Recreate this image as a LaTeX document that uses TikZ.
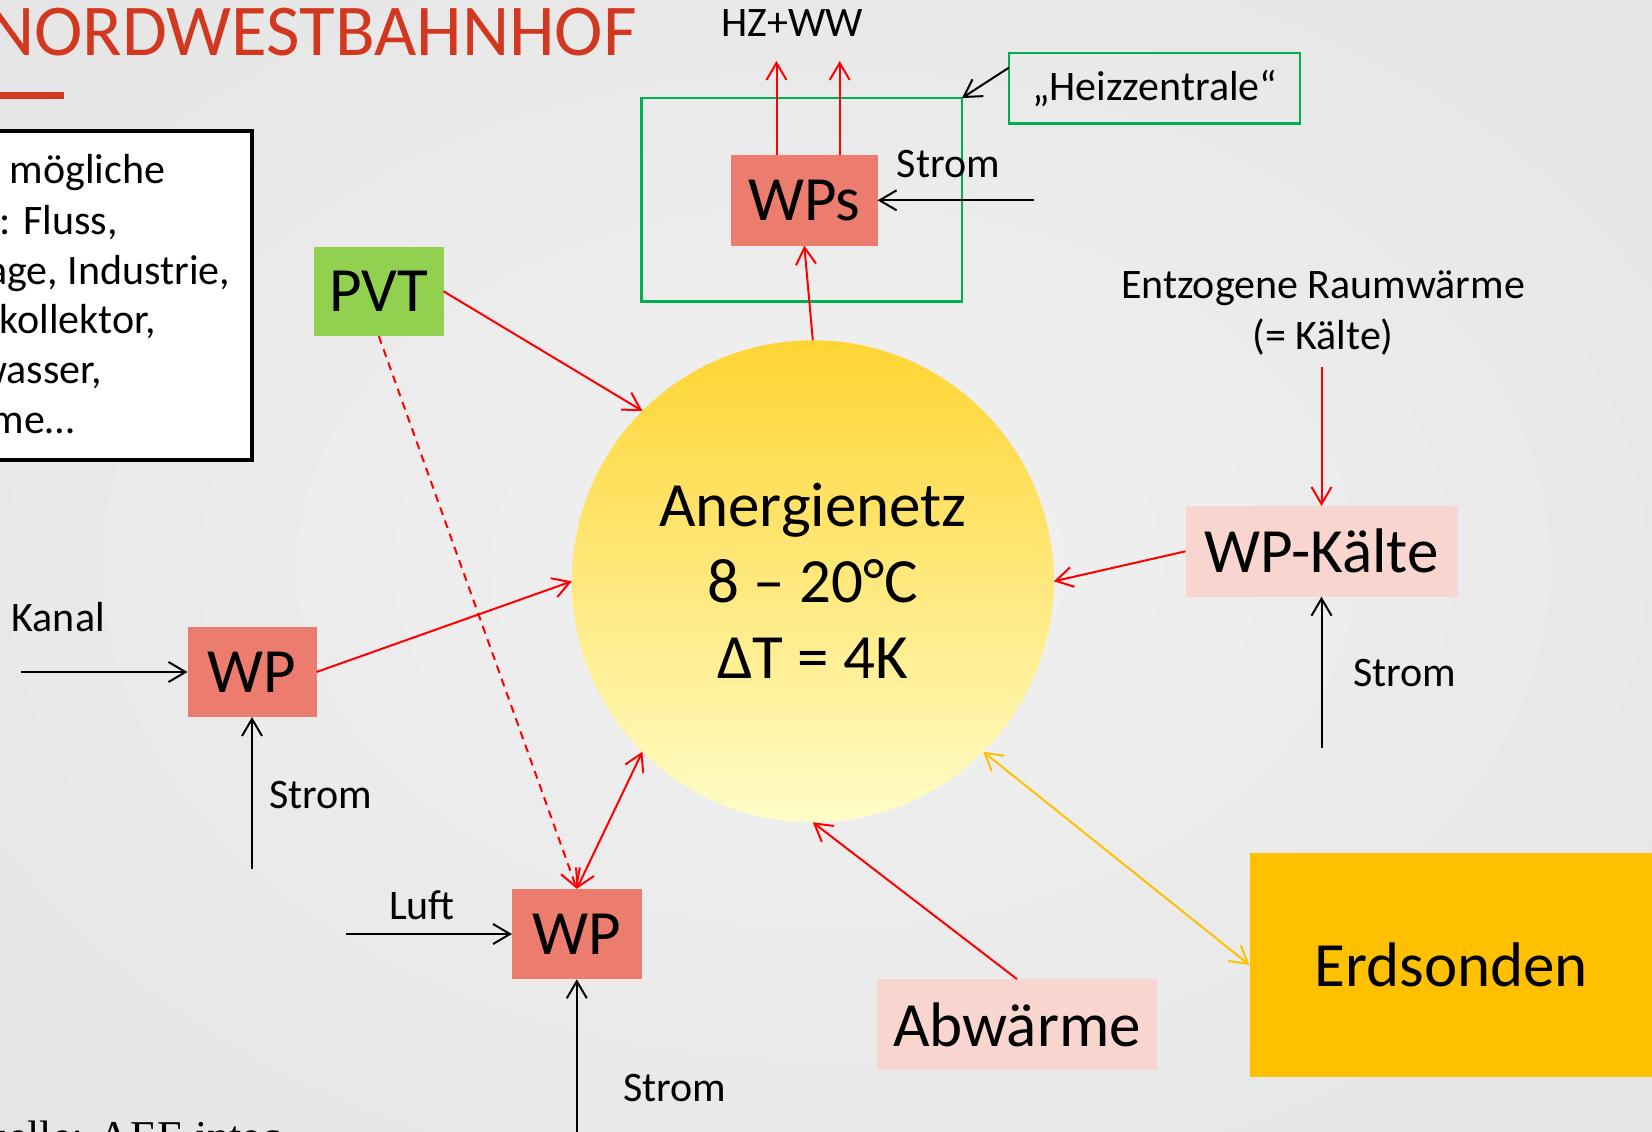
\documentclass[tikz,border=0pt]{standalone}
\usepackage{fontspec}
\setmainfont{Carlito}
\newfontfamily\quellfont{Liberation Serif}
\usetikzlibrary{arrows.meta}

\newlength{\du}
\setlength{\du}{0.5pt}
\newcommand{\gross}{\fontsize{31.5}{38}\selectfont}
\newcommand{\klein}{\fontsize{21}{25.5}\selectfont}
\newcommand{\titel}{\fontsize{36.5}{44}\selectfont}
\definecolor{bginnen}{rgb}{0.945000, 0.945000, 0.945000}
\definecolor{bgaussen}{rgb}{0.850000, 0.850000, 0.860000}
\pgfdeclareradialshading{hgrund}{\pgfpoint{0bp}{0bp}}{color(0bp)=(bginnen); color(71bp)=(bgaussen); color(72bp)=(bgaussen)}

\begin{document}
\begin{tikzpicture}[
  kasten/.style={inner sep=0pt, outer sep=0pt, font=\gross},
  beschr/.style={inner sep=0pt, outer sep=0pt, font=\klein},
  pfeil/.style={line width=1pt, -{Straight Barb[length=8.5pt,width=10pt]}},
  rotpfeil/.style={pfeil, draw=red},
  doppel/.style={line width=1pt, {Straight Barb[length=8.5pt,width=10pt]}-{Straight Barb[length=8.5pt,width=10pt]}},
  rahmen/.style={draw=zgruen, line width=1.2pt}
]
\pgftransformxscale{1.000000}
\pgftransformyscale{-1.000000}
\definecolor{titelrot}{rgb}{0.820000, 0.220000, 0.120000}
\definecolor{wpsalmon}{rgb}{0.925000, 0.486000, 0.431000}
\definecolor{pvtgruen}{rgb}{0.573000, 0.816000, 0.314000}
\definecolor{kpink}{rgb}{0.976000, 0.835000, 0.816000}
\definecolor{erdgelb}{rgb}{1.000000, 0.753000, 0.000000}
\definecolor{zgruen}{rgb}{0.000000, 0.690000, 0.314000}
\definecolor{netzoben}{rgb}{1.000000, 0.835000, 0.200000}
\definecolor{netzunten}{rgb}{1.000000, 0.990000, 0.780000}

\useasboundingbox (0\du,0\du) rectangle (1652\du,1131\du);
\shade[shading=hgrund] (0\du,0\du) rectangle (1652\du,1131\du);
\clip (0\du,0\du) rectangle (1652\du,1131\du);

% Titel
\node[anchor=base east, inner sep=0pt, font=\titel, text=titelrot] (titel) at (637\du,55\du) {NORDWESTBAHNHOF};
\fill[titelrot] (-5\du,91.5\du) rectangle (63.5\du,98.5\du);

% Textkasten links
\draw[line width=2pt, fill=white] (-20\du,131\du) rectangle (251.7\du,460\du);
\node[beschr, anchor=base east] (zeile1) at (165\du,183\du) {Weitere mögliche};
\node[beschr, anchor=base east] (zeile2) at (118\du,234\du) {Quellen: Fluss,};
\node[beschr, anchor=base east] (zeile3) at (230\du,284\du) {Kläranlage, Industrie,};
\node[beschr, anchor=base east] (zeile4) at (156\du,333\du) {Solarkollektor,};
\node[beschr, anchor=base east] (zeile5) at (102\du,383\du) {Grundwasser,};
\node[beschr, anchor=base east] (zeile6) at (74\du,433\du) {Abwärme…};

% Anergienetz
\node[circle, inner sep=0pt, outer sep=0pt, minimum size=482\du, top color=netzoben, bottom color=netzunten, font=\gross, align=center] (netz) at (812.8\du,581.3\du) {Anergienetz\\8 – 20°C\\ΔT = 4K};

% Heizzentrale
\node[rahmen, inner sep=0pt, outer sep=0pt, minimum width=320.4\du, minimum height=203.3\du] (zentrale) at (801.8\du,199.7\du) {};
\node[kasten, fill=wpsalmon, minimum width=146.6\du, minimum height=90.5\du] (wps) at (804.3\du,200.3\du) {WPs};
\node[beschr, rahmen, minimum width=291\du, minimum height=70.6\du] (hzlabel) at (1154.5\du,88\du) {„Heizzentrale“};
\draw[pfeil] (hzlabel.172) -- (zentrale.north east);
\node[beschr, anchor=base] (hzww) at (792.5\du,36\du) {HZ+WW};
\coordinate (hz1) at (776.5\du,61\du);
\coordinate (hz2) at (839.7\du,61\du);
\draw[rotpfeil] (wps.north -| hz1) -- (hz1);
\draw[rotpfeil] (wps.north -| hz2) -- (hz2);
\coordinate (s1) at (1033.6\du,200.3\du);
\draw[pfeil] (s1) -- (wps);
\node[beschr, anchor=base west] (strom1) at (896.8\du,177\du) {Strom};
\draw[rotpfeil] (netz.north) -- (wps.south);

% PVT
\node[kasten, fill=pvtgruen, minimum width=129.5\du, minimum height=89.5\du] (pvt) at (378.8\du,291.3\du) {PVT};
\draw[rotpfeil] (pvt.east) -- (netz.135);

% WP links (Kanal)
\node[kasten, fill=wpsalmon, minimum width=129\du, minimum height=90\du] (wpl) at (252\du,672\du) {WP};
\draw[rotpfeil] (wpl.east) -- (netz.west);
\coordinate (kanal) at (21\du,672\du);
\draw[pfeil] (kanal) -- (wpl.west);
\node[beschr, anchor=base west] (kanaltxt) at (11.7\du,631.7\du) {Kanal};
\coordinate (s2) at (252\du,869\du);
\draw[pfeil] (s2) -- (wpl.south);
\node[beschr, anchor=base west] (strom2) at (269\du,808\du) {Strom};

% WP unten (Luft)
\node[kasten, fill=wpsalmon, minimum width=129.6\du, minimum height=90.5\du] (wpu) at (576.8\du,934\du) {WP};
\draw[rotpfeil, dash pattern=on 4pt off 3pt] (pvt.south) -- (wpu.north);
\draw[doppel, draw=red] (wpu.north) -- (netz.225);
\coordinate (luft) at (346\du,934\du);
\draw[pfeil] (luft) -- (wpu.west);
\node[beschr, anchor=base west] (lufttxt) at (389\du,919\du) {Luft};
\coordinate (s3) at (576.8\du,1140\du);
\draw[pfeil] (s3) -- (wpu.south);
\node[beschr, anchor=base west] (strom3) at (623\du,1101.7\du) {Strom};

% WP-Kaelte
\node[kasten, fill=kpink, minimum width=272\du, minimum height=90.7\du] (kaelte) at (1321.5\du,551.3\du) {WP-Kälte};
\draw[rotpfeil] (kaelte.west) -- (netz.east);
\node[beschr, align=center, anchor=base] (raum) at (1323\du,349.3\du) {Entzogene Raumwärme\\(= Kälte)};
\draw[rotpfeil, shorten <=6pt] (raum.south -| kaelte.north) -- (kaelte.north);
\coordinate (s4) at (1321.5\du,748\du);
\draw[pfeil] (s4) -- (kaelte.south);
\node[beschr, anchor=base west] (strom4) at (1353\du,686.7\du) {Strom};

% Abwaerme, Erdsonden
\node[kasten, fill=kpink, minimum width=279.5\du, minimum height=90.8\du] (abw) at (1017\du,1024.5\du) {Abwärme};
\draw[rotpfeil] (abw.north) -- (netz.south);
\node[kasten, fill=erdgelb, minimum width=403.5\du, minimum height=224\du] (erd) at (1451.25\du,965\du) {Erdsonden};
\draw[doppel, draw=erdgelb] (erd.west) -- (netz.-45);

% Quelle
\node[inner sep=0pt, anchor=base east, font=\quellfont\fontsize{22}{26}\selectfont] (quelle) at (281\du,1151\du) {Quelle: AEE intec};
\end{tikzpicture}
\end{document}
